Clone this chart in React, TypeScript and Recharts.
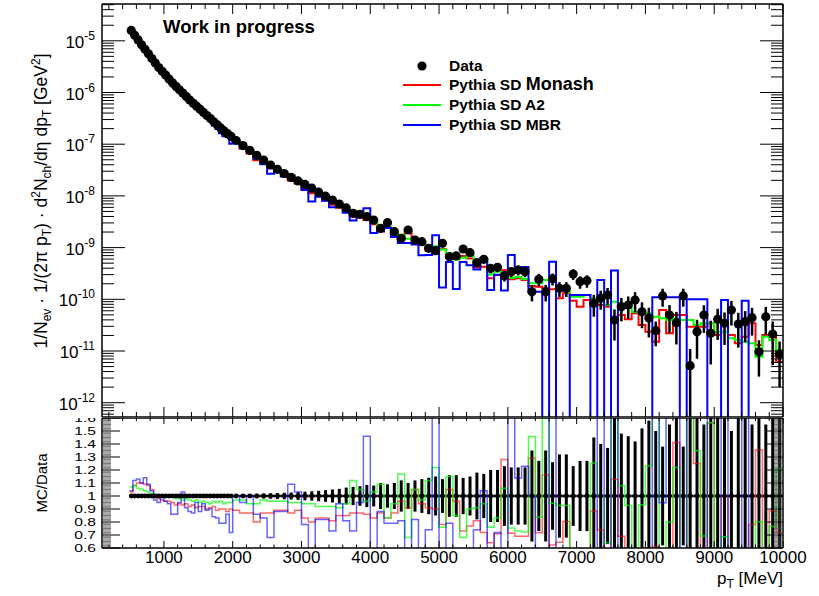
import React from 'react'
import { ComposedChart, Line, Scatter, XAxis, YAxis, ErrorBar } from 'recharts'

const FONT = '"Liberation Sans", Arial, Helvetica, sans-serif'

// binning: 50 MeV bins below 2 GeV, 100 MeV bins above
const binRanges = [500, 2000, 10000]
const binSteps = [50, 100]

// data, one value per bin (1/Nev ... [GeV^2])
const dataVals = [
  1.59e-5, 1.28e-5, 1.04e-5, 8.37e-6, 6.83e-6, 5.59e-6, 4.53e-6, 3.71e-6, 3.03e-6, 2.57e-6,
  2.17e-6, 1.82e-6, 1.54e-6, 1.32e-6, 1.13e-6, 9.73e-7, 8.34e-7, 7.16e-7, 6.24e-7, 5.43e-7,
  4.75e-7, 4.12e-7, 3.59e-7, 3.13e-7, 2.72e-7, 2.37e-7, 2.06e-7, 1.81e-7, 1.6e-7, 1.42e-7,
  1.18e-7, 9.4e-8, 7.59e-8, 6.09e-8, 4.92e-8, 3.96e-8, 3.27e-8, 2.71e-8, 2.28e-8, 1.95e-8,
  1.67e-8, 1.41e-8, 1.18e-8, 9.87e-9, 8.3e-9, 6.97e-9, 5.86e-9, 4.6e-9, 4.41e-9, 3.96e-9,
  3.42e-9, 2.36e-9, 3.03e-9, 2.03e-9, 1.51e-9, 2.19e-9, 1.4e-9, 1.3e-9, 9.68e-10, 8.71e-10,
  1.21e-9, 6.67e-10, 6.89e-10, 9.4e-10, 7.96e-10, 5.11e-10, 5.94e-10, 3.98e-10, 4.16e-10, 2.86e-10,
  3.42e-10, 3.69e-10, 3.42e-10, 1.4e-10, 2.44e-10, 1.4e-10, 2.5e-10, 1.63e-10, 1.63e-10, 3.08e-10,
  2.19e-10, 2.29e-10, 8.38e-11, 1.05e-10, 1.21e-10, 3.98e-11, 7.19e-11, 7.76e-11, 9.68e-11, 5.75e-11,
  4.35e-11, 2.47e-11, 1.16e-10, 4.97e-11, 3.52e-11, 1.16e-10, 5.2e-12, 2.36e-11, 4.97e-11, 2.2e-11,
  4.1e-11, 3.44e-11, 6.21e-11, 3.32e-11, 3.69e-11, 4.41e-11, 9.68e-12, 4.6e-11, 2.13e-11, 8.63e-12,
]

// relative stat. error of the data
const dataRelErr = [
  0.003, 0.003, 0.003, 0.003, 0.003, 0.004, 0.004, 0.004, 0.004, 0.005,
  0.005, 0.005, 0.006, 0.006, 0.006, 0.007, 0.007, 0.008, 0.008, 0.009,
  0.009, 0.01, 0.01, 0.011, 0.012, 0.012, 0.013, 0.014, 0.015, 0.015,
  0.012, 0.014, 0.015, 0.017, 0.019, 0.021, 0.023, 0.025, 0.027, 0.03,
  0.033, 0.036, 0.04, 0.045, 0.05, 0.055, 0.065, 0.07, 0.075, 0.085,
  0.08, 0.1, 0.09, 0.1, 0.12, 0.1, 0.12, 0.13, 0.14, 0.15,
  0.13, 0.16, 0.16, 0.14, 0.15, 0.18, 0.17, 0.2, 0.2, 0.23,
  0.22, 0.22, 0.22, 0.35, 0.27, 0.35, 0.26, 0.32, 0.32, 0.23,
  0.27, 0.27, 0.45, 0.4, 0.37, 0.6, 0.48, 0.46, 0.42, 0.52,
  0.58, 0.5, 0.38, 0.55, 0.62, 0.38, 1.1, 0.7, 0.55, 0.75,
  0.6, 0.62, 0.5, 0.65, 0.6, 0.55, 0.67, 0.55, 0.75, 0.77,
]

// MC/Data for the first 70 bins (read from the ratio pad)
const monashRatioLow = [
  1.03, 1.08, 1.1, 1.1, 1.09, 1.08, 1.05, 1.0, 0.98, 0.97,
  0.96, 0.96, 0.95, 0.93, 0.94, 0.93, 0.94, 0.92, 0.93, 0.91,
  0.92, 0.92, 0.9, 0.91, 0.92, 0.89, 0.9, 0.9, 0.88, 0.9,
  0.89, 0.87, 0.87, 0.8, 0.87, 0.87, 0.89, 0.89, 0.87, 0.89,
  0.83, 0.8, 0.83, 0.83, 0.81, 0.85, 0.85, 0.87, 0.87, 0.86,
  0.83, 0.87, 0.83, 0.87, 0.96, 0.91, 1.05, 0.94, 0.91, 0.9,
  0.78, 1.05, 0.96, 0.73, 0.77, 0.81, 0.72, 0.64, 0.71, 1.28,
]
const a2RatioLow = [
  1.07, 1.08, 1.06, 1.05, 1.04, 1.03, 1.02, 1.01, 1.0, 1.0,
  1.0, 0.99, 0.99, 0.98, 0.98, 0.97, 0.98, 0.97, 0.96, 0.97,
  0.95, 0.96, 0.95, 0.94, 0.96, 0.95, 0.96, 0.94, 0.95, 0.95,
  0.97, 0.97, 0.94, 0.94, 0.97, 0.96, 0.96, 0.96, 0.95, 0.95,
  0.94, 0.94, 0.92, 0.92, 0.92, 0.91, 0.94, 1.12, 1.05, 0.96,
  1.03, 1.09, 0.83, 0.94, 1.17, 0.68, 1.05, 0.97, 1.12, 1.22,
  0.76, 1.15, 0.85, 0.68, 0.9, 0.91, 0.94, 0.76, 0.83, 1.06,
]
const mbrRatioLow = [
  1.04, 1.12, 1.13, 1.1, 1.14, 1.09, 1.04, 0.97, 0.95, 0.99,
  0.96, 0.94, 0.86, 0.86, 0.95, 1.03, 0.91, 0.88, 0.87, 0.95,
  0.88, 0.94, 0.89, 0.9, 0.84, 0.83, 0.79, 0.79, 0.86, 0.72,
  1.0, 0.95, 1.0, 0.86, 0.83, 0.68, 0.88, 0.88, 1.09, 1.03,
  0.78, 0.55, 0.82, 0.82, 0.73, 0.94, 0.81, 0.73, 0.95, 1.46,
  0.56, 0.88, 0.79, 0.79, 0.81, 0.56, 0.82, 0.55, 0.74, 2.0,
  0.14, 0.79, 0.23, 0.56, 0.57, 0.74, 1.04, 0.38, 0.72, 0.52,
]

// MC spectra for the last 40 bins (6000-10000 MeV, read from the upper pad)
const monashHigh = [
  2.44e-10, 2.55e-10, 2.36e-10, 1.81e-10, 1.75e-10, 1.63e-10, 1.56e-10, 1.05e-10, 1.31e-10, 9.4e-11,
  7.19e-11, 9.68e-11, 7.42e-11, 7.76e-11, 7.19e-11, 4.49e-11, 4.97e-11, 4.1e-11, 5.36e-11, 3.18e-11,
  2.36e-11, 1.51e-11, 6.21e-11, 2.2e-11, 4.97e-11, 4.97e-11, 2.95e-11, 2.95e-11, 2.95e-11, 3.44e-11,
  2.04e-11, 3.44e-11, 2.04e-11, 1.41e-11, 1.89e-11, 3.44e-11, 1.31e-11, 2.04e-11, 1.89e-11, 6.21e-12,
]
const a2High = [
  2.58e-10, 2.7e-10, 2.47e-10, 2.04e-10, 2.04e-10, 2.36e-10, 2.36e-10, 1.51e-10, 1.51e-10, 1.12e-10,
  1.12e-10, 1.21e-10, 1.05e-10, 1.05e-10, 7.76e-11, 8.99e-11, 7.76e-11, 7.19e-11, 5.75e-11, 5.36e-11,
  5.36e-11, 4.6e-11, 4.29e-11, 3.98e-11, 4.29e-11, 3.98e-11, 3.98e-11, 3.18e-11, 3.44e-11, 3.44e-11,
  2.36e-11, 2.36e-11, 1.76e-11, 1.63e-11, 1.51e-11, 1.41e-11, 7.76e-12, 1.89e-11, 1.63e-11, 1.04e-11,
]
const mbrHigh = [
  7.2e-10, 4.2e-10, 4.2e-10, 1.4e-10, 1.4e-10, 0, 5.3e-10, 0, 0, 1.21e-10,
  1.21e-10, 1.21e-10, 0, 2.36e-10, 0, 3.6e-10, 0, 0, 0, 0,
  0, 1.1e-10, 1.1e-10, 1.1e-10, 1.1e-10, 0, 1.0e-10, 1.0e-10, 1.0e-10, 0,
  0, 9.7e-11, 0, 0, 9.4e-11, 0, 0, 0, 0, 0,
]

const xMajorTicks = [1000, 2000, 3000, 4000, 5000, 6000, 7000, 8000, 9000, 10000]
const decades = [-13, -12, -11, -10, -9, -8, -7, -6, -5]

const X_DOMAIN: [number, number] = [100, 10000]
const Y_DOMAIN: [number, number] = [5.29e-13, 5.15e-5]
const R_DOMAIN: [number, number] = [0.6, 1.6]

// ---- derived tables ----
const binLows: number[] = []
binSteps.forEach((step, s) => {
  for (let e = binRanges[s]; e < binRanges[s + 1]; e += step) binLows.push(e)
})
const binHighs = binLows.map((lo, i) => (i < binLows.length - 1 ? binLows[i + 1] : binRanges[binRanges.length - 1]))

const buildMC = (ratioLow: number[], high: number[]) => [...ratioLow.map((r, i) => r * dataVals[i]), ...high]
const monash = buildMC(monashRatioLow, monashHigh)
const a2 = buildMC(a2RatioLow, a2High)
const mbr = buildMC(mbrRatioLow, mbrHigh)

const FLOOR = 1e-14
const hist = (vals: number[]) => [
  ...binLows.map((x, i) => ({ x, y: Math.max(vals[i], FLOOR) })),
  { x: X_DOMAIN[1], y: Math.max(vals[vals.length - 1], FLOOR) },
]
const ratioHist = (vals: number[]) => [
  ...binLows.map((x, i) => ({ x, y: vals[i] / dataVals[i] })),
  { x: X_DOMAIN[1], y: vals[vals.length - 1] / dataVals[dataVals.length - 1] },
]

const dataPoints = dataVals.map((d, i) => {
  const e = dataRelErr[i]
  return {
    x: (binLows[i] + binHighs[i]) / 2,
    y: d,
    err: [Math.min(d * e, d - Y_DOMAIN[0] * 1.01), d * e],
  }
})
const ratioPoints = dataVals.map((_, i) => {
  const e = dataRelErr[i]
  return {
    x: (binLows[i] + binHighs[i]) / 2,
    y: 1,
    ey: [Math.min(e, 0.4), Math.min(e, 0.6)],
    ex: (binHighs[i] - binLows[i]) / 2,
  }
})

const xTicks: number[] = []
for (let v = 200; v <= 10000; v += 200) xTicks.push(v)
const logTicks: number[] = []
decades.forEach((p) => {
  for (let k = 1; k <= 9; k++) {
    const v = k * Math.pow(10, p)
    if (v >= Y_DOMAIN[0] && v <= Y_DOMAIN[1]) logTicks.push(v)
  }
})
const ratioTicks: number[] = []
for (let k = 60; k <= 160; k++) ratioTicks.push(k / 100)

// ---- tick renderers (ROOT style: ticks inside the frame) ----
const isDecade = (v: number) => Math.abs(Math.log10(v) - Math.round(Math.log10(v))) < 1e-6

function LogTick(props: any) {
  const { x, y, payload, side } = props
  const v = payload.value
  const major = isDecade(v)
  const len = major ? 23 : 12
  const dir = side === 'left' ? 1 : -1
  return (
    <g>
      <line x1={x} x2={x + dir * len} y1={y} y2={y} stroke="#000" strokeWidth={1} />
      {side === 'left' && major && (
        <text x={x - 7} y={y + 7} textAnchor="end" fontSize={17} fontFamily={FONT} fill="#000">
          10<tspan dy={-8} fontSize={12}>{Math.round(Math.log10(v))}</tspan>
        </text>
      )}
    </g>
  )
}

function RatioTick(props: any) {
  const { x, y, payload, side } = props
  const v = payload.value
  const major = Math.round(v * 100) % 10 === 0
  const len = major ? 18 : 9
  const dir = side === 'left' ? 1 : -1
  return (
    <g>
      <line
        x1={x}
        x2={x + dir * len}
        y1={y}
        y2={y}
        stroke={major ? '#000' : '#444'}
        strokeWidth={major ? 1 : 0.7}
      />
      {side === 'left' && major && (
        <text
          transform={`translate(${x - 6} ${y + 4}) scale(1.2 0.82)`}
          textAnchor="end"
          fontSize={13}
          fontFamily={FONT}
          fill="#000"
        >
          {Math.abs(v - 1) < 1e-6 ? '1' : v.toFixed(1)}
        </text>
      )}
    </g>
  )
}

function XTick(props: any) {
  const { x, y, payload, side, majorLen, minorLen, labels } = props
  const v = payload.value
  const major = xMajorTicks.includes(v)
  const len = major ? majorLen : minorLen
  const dir = side === 'bottom' ? -1 : 1
  return (
    <g>
      <line x1={x} x2={x} y1={y} y2={y + dir * len} stroke="#000" strokeWidth={1} />
      {labels && major && (
        <text x={x} y={y + 14.5} textAnchor="middle" fontSize={17} fontFamily={FONT} fill="#000">
          {v}
        </text>
      )}
    </g>
  )
}

const axisLine = { stroke: '#000', strokeWidth: 1.5 }

function TopPad() {
  return (
    <ComposedChart width={819} height={418} margin={{ top: 3, right: 0, bottom: 0, left: 0 }}>
      <XAxis
        type="number"
        dataKey="x"
        domain={X_DOMAIN}
        allowDataOverflow
        ticks={xTicks}
        interval={0}
        height={1}
        tickSize={0}
        tickMargin={0}
        axisLine={axisLine}
        tick={(p: any) => <XTick {...p} side="bottom" majorLen={10} minorLen={5} />}
      />
      <XAxis
        xAxisId="top"
        orientation="top"
        type="number"
        dataKey="x"
        domain={X_DOMAIN}
        allowDataOverflow
        ticks={xTicks}
        interval={0}
        height={1}
        tickSize={0}
        tickMargin={0}
        axisLine={axisLine}
        tick={(p: any) => <XTick {...p} side="top" majorLen={10} minorLen={5} />}
      />
      <YAxis
        type="number"
        scale="log"
        domain={Y_DOMAIN}
        allowDataOverflow
        ticks={logTicks}
        interval={0}
        width={102}
        tickSize={0}
        tickMargin={0}
        axisLine={axisLine}
        tick={(p: any) => <LogTick {...p} side="left" />}
      />
      <YAxis
        yAxisId="right"
        orientation="right"
        type="number"
        scale="log"
        domain={Y_DOMAIN}
        allowDataOverflow
        ticks={logTicks}
        interval={0}
        width={36}
        tickSize={0}
        tickMargin={0}
        axisLine={axisLine}
        tick={(p: any) => <LogTick {...p} side="right" />}
      />
      <Line data={hist(monash)} dataKey="y" type="stepAfter" stroke="#ff0000" strokeWidth={2} dot={false} activeDot={false} isAnimationActive={false} />
      <Line data={hist(a2)} dataKey="y" type="stepAfter" stroke="#00ff00" strokeWidth={2} dot={false} activeDot={false} isAnimationActive={false} />
      <Line data={hist(mbr)} dataKey="y" type="stepAfter" stroke="#0000ff" strokeWidth={2} dot={false} activeDot={false} isAnimationActive={false} />
      <Scatter
        data={dataPoints}
        dataKey="y"
        isAnimationActive={false}
        shape={(p: any) => <circle cx={p.cx} cy={p.cy} r={4.6} fill="#000" />}
      >
        <ErrorBar dataKey="err" direction="y" width={0} stroke="#000" strokeWidth={2.5} />
      </Scatter>
    </ComposedChart>
  )
}

function RatioPad() {
  return (
    <ComposedChart width={819} height={179} margin={{ top: 0, right: 0, bottom: 0, left: 0 }}>
      <XAxis
        type="number"
        dataKey="x"
        domain={X_DOMAIN}
        allowDataOverflow
        ticks={xTicks}
        interval={0}
        height={48}
        tickSize={0}
        tickMargin={0}
        axisLine={axisLine}
        tick={(p: any) => <XTick {...p} side="bottom" majorLen={7} minorLen={3.5} labels />}
      />
      <XAxis
        xAxisId="top"
        orientation="top"
        type="number"
        dataKey="x"
        domain={X_DOMAIN}
        allowDataOverflow
        ticks={xTicks}
        interval={0}
        height={1}
        tickSize={0}
        tickMargin={0}
        axisLine={axisLine}
        tick={(p: any) => <XTick {...p} side="top" majorLen={6} minorLen={3} />}
      />
      <YAxis
        type="number"
        domain={R_DOMAIN}
        allowDataOverflow
        ticks={ratioTicks}
        interval={0}
        width={102}
        tickSize={0}
        tickMargin={0}
        axisLine={axisLine}
        tick={(p: any) => <RatioTick {...p} side="left" />}
      />
      <YAxis
        yAxisId="right"
        orientation="right"
        type="number"
        domain={R_DOMAIN}
        allowDataOverflow
        ticks={ratioTicks}
        interval={0}
        width={36}
        tickSize={0}
        tickMargin={0}
        axisLine={axisLine}
        tick={(p: any) => <RatioTick {...p} side="right" />}
      />
      <Scatter
        data={ratioPoints}
        dataKey="y"
        isAnimationActive={false}
        shape={(p: any) => <circle cx={p.cx} cy={p.cy} r={2.4} fill="#000" />}
      >
        <ErrorBar dataKey="ey" direction="y" width={0} stroke="#000" strokeWidth={3} />
        <ErrorBar dataKey="ex" direction="x" width={0} stroke="#000" strokeWidth={2.5} />
      </Scatter>
      <Line data={ratioHist(monash)} dataKey="y" type="stepAfter" stroke="#ff0000" strokeOpacity={0.6} strokeWidth={1.5} dot={false} activeDot={false} isAnimationActive={false} />
      <Line data={ratioHist(a2)} dataKey="y" type="stepAfter" stroke="#00ff00" strokeOpacity={0.7} strokeWidth={1.5} dot={false} activeDot={false} isAnimationActive={false} />
      <Line data={ratioHist(mbr)} dataKey="y" type="stepAfter" stroke="#0000ff" strokeOpacity={0.6} strokeWidth={1.5} dot={false} activeDot={false} isAnimationActive={false} />
    </ComposedChart>
  )
}

const legendItems = [
  { label: 'Pythia SD ', tag: 'Monash', color: '#ff0000', y: 85 },
  { label: 'Pythia SD A2', tag: '', color: '#00ff00', y: 105 },
  { label: 'Pythia SD MBR', tag: '', color: '#0000ff', y: 125 },
]

export default function App() {
  const sub = 12
  return (
    <div style={{ position: 'absolute', left: 0, top: 0, width: 819, height: 596, background: '#fff', fontFamily: FONT }}>
      <div style={{ position: 'absolute', left: 0, top: 417 }}>
        <RatioPad />
      </div>
      <div style={{ position: 'absolute', left: 0, top: 0, height: 418, overflow: 'hidden', background: '#fff' }}>
        <TopPad />
      </div>
      <svg width={819} height={596} style={{ position: 'absolute', left: 0, top: 0, pointerEvents: 'none' }}>
        <text x={163} y={33} fontSize={18.5} fontWeight="bold" fontFamily={FONT}>
          Work in progress
        </text>
        <circle cx={422} cy={66} r={4.6} fill="#000" />
        <text x={449} y={70.5} fontSize={15.5} fontWeight="bold" fontFamily={FONT}>
          Data
        </text>
        {legendItems.map((it) => (
          <g key={it.label}>
            <line x1={403} x2={441} y1={it.y} y2={it.y} stroke={it.color} strokeWidth={2} />
            <text x={449} y={it.y + 4.5} fontSize={15.5} fontWeight="bold" fontFamily={FONT}>
              {it.label}
              {it.tag && <tspan fontSize={18}>{it.tag}</tspan>}
            </text>
          </g>
        ))}
        <text transform="translate(47,201) rotate(-90)" textAnchor="middle" fontSize={17.5} fontFamily={FONT}>
          {'1/N'}
          <tspan dy={4} fontSize={sub}>ev</tspan>
          <tspan dy={-4}>{' \u00b7 1/(2\u03c0 p'}</tspan>
          <tspan dy={4} fontSize={sub}>T</tspan>
          <tspan dy={-4}>{') \u00b7 d'}</tspan>
          <tspan dy={-7} fontSize={sub}>2</tspan>
          <tspan dy={7}>N</tspan>
          <tspan dy={4} fontSize={sub}>ch</tspan>
          <tspan dy={-4}>{'/d\u03b7 dp'}</tspan>
          <tspan dy={4} fontSize={sub}>T</tspan>
          <tspan dy={-4}>{' [GeV'}</tspan>
          <tspan dy={-7} fontSize={sub}>2</tspan>
          <tspan dy={7}>]</tspan>
        </text>
        <text transform="translate(47,483) rotate(-90)" textAnchor="middle" fontSize={15} fontFamily={FONT}>
          MC/Data
        </text>
        <text x={783} y={584} textAnchor="end" fontSize={17} fontFamily={FONT}>
          p<tspan dy={4} fontSize={sub}>T</tspan>
          <tspan dy={-4}>{' [MeV]'}</tspan>
        </text>
      </svg>
    </div>
  )
}
